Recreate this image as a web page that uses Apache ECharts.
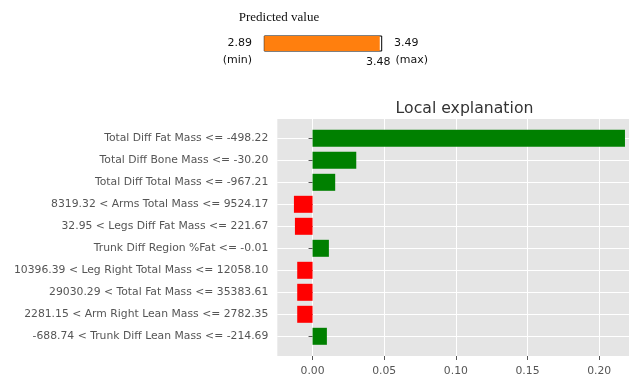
<!DOCTYPE html>
<html><head><meta charset="utf-8">
<script src="https://cdn.jsdelivr.net/npm/echarts@6/dist/echarts.min.js"></script>
<style>html,body{margin:0;padding:0;background:#fff}#c{width:629px;height:377px}</style>
</head><body><div id="c"></div>
<script>
const categories = [
  'Total Diff Fat Mass <= -498.22',
  'Total Diff Bone Mass <= -30.20',
  'Total Diff Total Mass <= -967.21',
  '8319.32 < Arms Total Mass <= 9524.17',
  '32.95 < Legs Diff Fat Mass <= 221.67',
  'Trunk Diff Region %Fat <= -0.01',
  '10396.39 < Leg Right Total Mass <= 12058.10',
  '29030.29 < Total Fat Mass <= 35383.61',
  '2281.15 < Arm Right Lean Mass <= 2782.35',
  '-688.74 < Trunk Diff Lean Mass <= -214.69'
];
const weights = [0.218, 0.0305, 0.0158, -0.0130, -0.0123, 0.0114, -0.0107, -0.0107, -0.0107, 0.0100];
const xTicks = [0, 0.05, 0.10, 0.15, 0.20];
const predMin = 2.89, predMax = 3.49, predValue = 3.48;

const chart = echarts.init(document.getElementById('c'), null, {renderer: 'canvas'});
const xMin = -0.0246, xMax = 0.2296;
const gl = 277.3, gw = 364.3;
const gridBase = {outerBoundsMode: 'none', containLabel: false};
chart.setOption({
  animation: false,
  title: {text: 'Local explanation', left: 459.5, top: 96, textAlign: 'center',
    textStyle: {fontFamily: 'DejaVu Sans', fontSize: 15.7, fontWeight: 'normal', color: '#333'}},
  grid: [
    Object.assign({left: gl, top: 119, width: gw, height: 237, show: true, backgroundColor: '#E5E5E5', borderWidth: 0}, gridBase),
    Object.assign({left: gl, top: 138.3, width: gw, height: 198}, gridBase),
    Object.assign({left: 264.3, top: 36, width: 117.4, height: 15, show: true, backgroundColor: '#fff', borderColor: '#000', borderWidth: 1}, gridBase)
  ],
  xAxis: [
    {gridIndex: 0, type: 'value', min: xMin, max: xMax,
      axisLine: {show: false},
      axisTick: {show: true, length: 4, lineStyle: {color: '#555'}, customValues: xTicks},
      axisLabel: {color: '#555', fontFamily: 'DejaVu Sans', fontSize: 10.8, margin: 10, customValues: xTicks,
        formatter: v => v.toFixed(2)},
      splitLine: {show: true, lineStyle: {color: '#fff', width: 1}}},
    {gridIndex: 1, type: 'value', min: xMin, max: xMax, show: false},
    {gridIndex: 2, type: 'value', min: predMin, max: predMax, show: false}
  ],
  yAxis: [
    {gridIndex: 0, type: 'value', show: false},
    {gridIndex: 1, type: 'category', data: categories, inverse: true, boundaryGap: false,
      axisLine: {show: false},
      axisTick: {show: true, length: 4, lineStyle: {color: '#555'}},
      axisLabel: {color: '#555', fontFamily: 'DejaVu Sans', fontSize: 10.8, margin: 9},
      splitLine: {show: true, lineStyle: {color: '#fff', width: 1}}},
    {gridIndex: 2, type: 'category', data: ['pred'], show: false}
  ],
  series: [
    {type: 'bar', xAxisIndex: 1, yAxisIndex: 1, clip: false, barWidth: 17,
      data: weights.map(v => ({value: v, itemStyle: {color: v >= 0 ? '#008000' : '#FF0000'}}))},
    {type: 'bar', xAxisIndex: 2, yAxisIndex: 2, barWidth: '100%', clip: true,
      itemStyle: {color: '#FF7F0E'}, data: [predValue]}
  ]
});
const txt = (x, y, s, align) => ({type: 'text', x: x, y: y, style: {text: s, fill: '#111', font: '11px "DejaVu Sans"', align: align, verticalAlign: 'middle'}});
const pX = chart.convertToPixel({xAxisIndex: 2}, predValue);
chart.setOption({graphic: [
  {type: 'text', x: 279, y: 18, style: {text: 'Predicted value', fill: '#111', font: '13px "Liberation Serif"', align: 'center', verticalAlign: 'middle'}},
  txt(252, 43, predMin.toFixed(2), 'right'),
  txt(252, 60, '(min)', 'right'),
  txt(394, 43, predMax.toFixed(2), 'left'),
  txt(395.5, 60, '(max)', 'left'),
  txt(pX - 1.5, 62, predValue.toFixed(2), 'center')
]});
</script></body></html>
